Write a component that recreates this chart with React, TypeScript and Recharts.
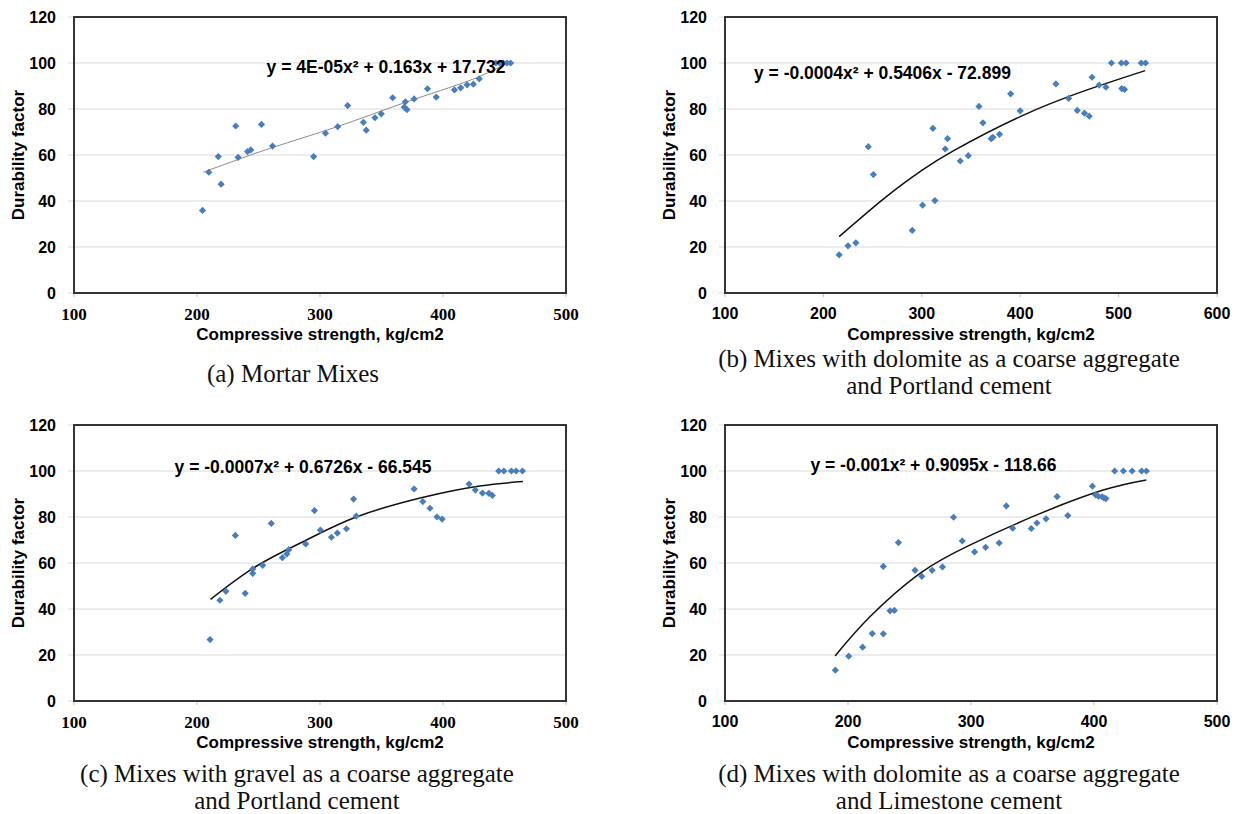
import React from 'react';
import {
  ComposedChart,
  Scatter,
  Line,
  XAxis,
  YAxis,
  CartesianGrid,
  ReferenceDot,
} from 'recharts';

// (a) Mortar mixes
const mortarX = [204.5, 209.6, 217.3, 219.6, 231.5, 233.4, 241.1, 243.7, 252.4, 261.4, 294.8, 304.5, 314.4, 322.5, 335.3, 337.6, 344.7, 349.8, 359.1, 368.5, 369.4, 370.7, 376.5, 387.4, 394.5, 409.3, 414.4, 419.6, 424.7, 429.5, 443, 446, 449, 452, 455];
const mortarY = [35.9, 52.5, 59.3, 47.3, 72.6, 59.0, 61.5, 62.2, 73.3, 63.9, 59.3, 69.5, 72.3, 81.5, 74.2, 70.8, 76.2, 77.9, 84.9, 80.8, 83.1, 79.7, 84.4, 88.8, 85.2, 88.3, 89.2, 90.5, 90.8, 93.1, 100, 100, 100, 100, 100];
const mortarTrendX = [205, 260, 314, 370, 422, 454];
const mortarTrendY = [52.5, 63, 72.3, 83, 92.5, 100.5];

// (b) dolomite + Portland cement
const dolPortX = [216, 225, 233, 245.6, 250.8, 290.3, 300.8, 311.3, 313.3, 323.8, 326.2, 339.1, 347.2, 358.1, 362.1, 370.5, 372.2, 379, 390.3, 400, 436.3, 449.2, 458, 465.3, 470.2, 473, 480.2, 487.1, 492.7, 502.8, 503.2, 506, 507.6, 523, 527.4];
const dolPortY = [16.6, 20.5, 21.8, 63.6, 51.5, 27.2, 38.2, 71.6, 40.2, 62.6, 67.1, 57.4, 59.7, 81.1, 74.0, 67.1, 67.7, 69.0, 86.6, 79.2, 90.9, 84.6, 79.4, 78.2, 76.9, 93.8, 90.4, 89.5, 100, 100, 88.9, 88.5, 100, 100, 100];
const dolPortTrendX = [216, 264, 300, 332, 400, 468, 527];
const dolPortTrendY = [24.5, 41.9, 53.3, 61.8, 76.7, 88.3, 96.7];

// (c) gravel + Portland cement
const gravelX = [210.6, 218.6, 223.5, 231.2, 239.2, 245.3, 245.3, 253.4, 260.4, 269.4, 273, 274.6, 288.4, 295.5, 300.3, 309.3, 314.1, 321.5, 327.3, 329.5, 376.5, 383.6, 389.4, 395.1, 399.3, 421.2, 426.3, 432.1, 437.3, 440.1, 445.3, 449.5, 455.6, 459.4, 464.6];
const gravelY = [26.7, 43.8, 47.7, 72.0, 46.8, 57.4, 55.5, 59.0, 77.2, 62.3, 63.9, 65.8, 68.3, 82.8, 74.3, 71.2, 73.0, 74.9, 87.8, 80.4, 92.2, 86.7, 83.8, 80.0, 79.1, 94.3, 91.7, 90.4, 90.3, 89.4, 100, 100, 100, 100, 100];
const gravelTrendX = [211, 248.5, 289, 330, 384, 430, 465];
const gravelTrendY = [44.2, 58.7, 70, 80.1, 88.6, 93.5, 95.4];

// (d) dolomite + Limestone cement
const dolLimeX = [189.7, 200.6, 211.9, 219.7, 228.7, 228.7, 234.2, 237.7, 241, 254.5, 260, 268.4, 276.8, 285.8, 292.9, 302.9, 311.9, 322.9, 328.7, 333.9, 349, 353.6, 361, 370, 378.7, 398.7, 401.3, 403.6, 406.5, 408.1, 409.7, 416.8, 423.9, 431, 438.7, 442.6];
const dolLimeY = [13.4, 19.5, 23.4, 29.3, 29.2, 58.5, 39.2, 39.4, 68.9, 56.8, 54.2, 56.8, 58.3, 79.9, 69.6, 64.8, 66.8, 68.7, 84.8, 75.1, 75.0, 77.4, 79.2, 88.9, 80.6, 93.4, 89.6, 89.0, 88.8, 88.3, 88.0, 100, 100, 100, 100, 100];
const dolLimeTrendX = [189.5, 218, 258.5, 299, 353.5, 407.5, 442.5];
const dolLimeTrendY = [19.6, 36.7, 55.5, 67.8, 80.9, 91.7, 96.1];

const yTicks = [0, 20, 40, 60, 80, 100, 120];
const xTicks500 = [100, 200, 300, 400, 500];
const xTicks600 = [100, 200, 300, 400, 500, 600];

const SANS = '"Liberation Sans", Arial, sans-serif';
const SERIF = '"Liberation Serif", "Times New Roman", serif';

// plot box inside each panel
const PLOT_LEFT = 74;
const PLOT_TOP = 17;
const PLOT_W = 492;
const PLOT_H = 276;

const zip = (xs: number[], ys: number[]) => xs.map((x, i) => ({ x, y: ys[i] }));

const Diamond = (props: any) => {
  const { cx, cy } = props;
  if (cx == null || cy == null) return null;
  const r = 3.6;
  return (
    <path
      d={`M${cx},${cy - r}L${cx + r},${cy}L${cx},${cy + r}L${cx - r},${cy}Z`}
      fill="#4a7ebb"
    />
  );
};

interface PanelProps {
  left: number;
  top: number;
  xTicks: number[];
  serifTicks: boolean;
  points: { x: number; y: number }[];
  trend: { x: number; y: number }[];
  trendColor: string;
  trendWidth: number;
  equation: string;
  eqX: number;
  eqY: number;
}

function Panel({ left, top, xTicks, serifTicks, points, trend, trendColor, trendWidth, equation, eqX, eqY }: PanelProps) {
  const xMax = xTicks[xTicks.length - 1];
  const width = 580;
  return (
    <div style={{ position: 'absolute', left, top, width, height: 345 }}>
      <ComposedChart
        width={width}
        height={345}
        margin={{ top: PLOT_TOP, right: width - PLOT_LEFT - PLOT_W, bottom: 0, left: 14 }}
      >
        <CartesianGrid vertical={false} stroke="#d9d9d9" />
        <XAxis
          type="number"
          dataKey="x"
          domain={[100, xMax]}
          ticks={xTicks}
          allowDataOverflow
          height={52}
          tickSize={4}
          tickMargin={11}
          axisLine={false}
          tickLine={{ stroke: '#bfbfbf' }}
          tick={{
            fill: '#000',
            fontSize: serifTicks ? 17 : 16,
            fontWeight: 700,
            fontFamily: serifTicks ? SERIF : SANS,
          }}
          label={{
            value: 'Compressive strength, kg/cm2',
            position: 'insideBottom',
            offset: 5,
            fill: '#000',
            fontSize: 17,
            fontWeight: 700,
            fontFamily: SANS,
          }}
        />
        <YAxis
          type="number"
          dataKey="y"
          domain={[0, 120]}
          ticks={yTicks}
          width={60}
          tickSize={6}
          tickMargin={12}
          axisLine={false}
          tickLine={{ stroke: '#d9d9d9' }}
          tick={{ fill: '#000', fontSize: 16, fontWeight: 700, fontFamily: SANS }}
          label={{
            value: 'Durability factor',
            angle: -90,
            position: 'insideLeft',
            offset: 4,
            fill: '#000',
            fontSize: 17,
            fontWeight: 700,
            fontFamily: SANS,
            style: { textAnchor: 'middle' },
          }}
        />
        <Scatter data={points} shape={Diamond} isAnimationActive={false} />
        <Line
          data={trend}
          dataKey="y"
          type="natural"
          stroke={trendColor}
          strokeWidth={trendWidth}
          dot={false}
          activeDot={false}
          isAnimationActive={false}
        />
        <ReferenceDot
          x={eqX}
          y={eqY}
          r={0}
          fill="none"
          stroke="none"
          label={{
            value: equation,
            position: 'center',
            fill: '#000',
            fontSize: 17.5,
            fontWeight: 700,
            fontFamily: SANS,
          }}
        />
      </ComposedChart>
      {/* plot-area border */}
      <div
        style={{
          position: 'absolute',
          left: PLOT_LEFT - 1,
          top: PLOT_TOP - 1,
          width: PLOT_W + 2,
          height: PLOT_H + 2,
          boxSizing: 'border-box',
          border: '2px solid #333',
          pointerEvents: 'none',
          zIndex: 5,
        }}
      />
    </div>
  );
}

const captionStyle: React.CSSProperties = {
  position: 'absolute',
  width: 560,
  textAlign: 'center',
  fontFamily: SERIF,
  fontSize: 25,
  lineHeight: '27px',
  color: '#111',
};

export default function App() {
  return (
    <div
      style={{
        position: 'absolute',
        left: 0,
        top: 0,
        width: 1242,
        height: 814,
        background: '#fff',
        overflow: 'hidden',
      }}
    >
      <Panel
        left={0}
        top={0}
        xTicks={xTicks500}
        serifTicks
        points={zip(mortarX, mortarY)}
        trend={zip(mortarTrendX, mortarTrendY)}
        trendColor="#8c8c8c"
        trendWidth={1}
        equation="y = 4E-05x² + 0.163x + 17.732"
        eqX={353.7}
        eqY={98.3}
      />
      <Panel
        left={651}
        top={0}
        xTicks={xTicks600}
        serifTicks={false}
        points={zip(dolPortX, dolPortY)}
        trend={zip(dolPortTrendX, dolPortTrendY)}
        trendColor="#111"
        trendWidth={1.5}
        equation="y = -0.0004x² + 0.5406x - 72.899"
        eqX={260}
        eqY={95.7}
      />
      <Panel
        left={0}
        top={408}
        xTicks={xTicks500}
        serifTicks
        points={zip(gravelX, gravelY)}
        trend={zip(gravelTrendX, gravelTrendY)}
        trendColor="#111"
        trendWidth={1.5}
        equation="y = -0.0007x² + 0.6726x - 66.545"
        eqX={286.2}
        eqY={101.7}
      />
      <Panel
        left={651}
        top={408}
        xTicks={xTicks500}
        serifTicks={false}
        points={zip(dolLimeX, dolLimeY)}
        trend={zip(dolLimeTrendX, dolLimeTrendY)}
        trendColor="#111"
        trendWidth={1.5}
        equation="y = -0.001x² + 0.9095x - 118.66"
        eqX={269.5}
        eqY={102.6}
      />
      <div style={{ ...captionStyle, left: 293 - 280, top: 359.5 }}>(a) Mortar Mixes</div>
      <div style={{ ...captionStyle, left: 949 - 280, top: 344.5 }}>
        (b) Mixes with dolomite as a coarse aggregate
        <br />
        and Portland cement
      </div>
      <div style={{ ...captionStyle, left: 297 - 280, top: 760 }}>
        (c) Mixes with gravel as a coarse aggregate
        <br />
        and Portland cement
      </div>
      <div style={{ ...captionStyle, left: 949 - 280, top: 760 }}>
        (d) Mixes with dolomite as a coarse aggregate
        <br />
        and Limestone cement
      </div>
    </div>
  );
}
